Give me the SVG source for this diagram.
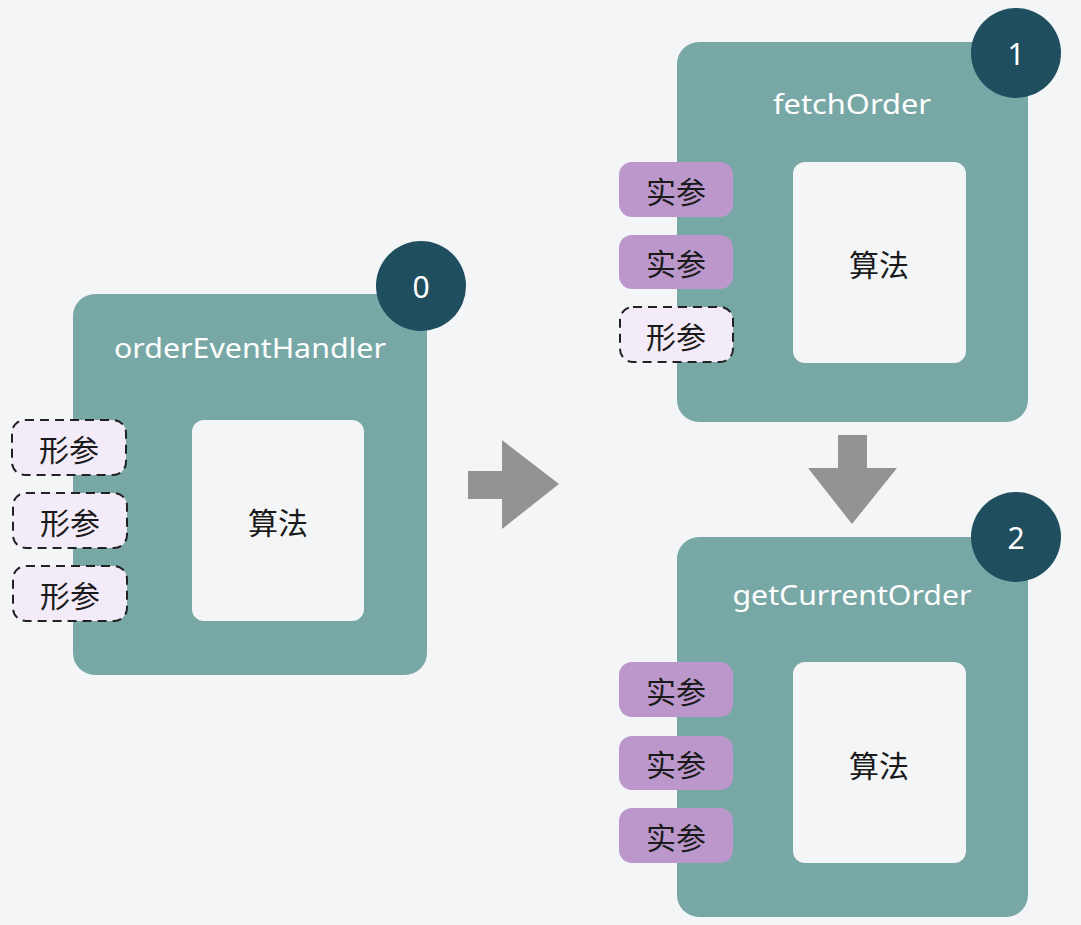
<svg xmlns="http://www.w3.org/2000/svg" width="1081" height="925" viewBox="0 0 1081 925">
<style>
.bg{fill:#f4f5f7}
.fn{fill:#78a8a6}
.algo{fill:#f4f5f7}
.badge{fill:#1f4e5f}
.num{fill:#ffffff;font-family:"Noto Sans","Liberation Sans",sans-serif;font-size:30px;text-anchor:middle;dominant-baseline:central}
.title{fill:#ffffff;font-family:"Noto Sans","Liberation Sans",sans-serif;font-size:27px;text-anchor:middle}
.cjk{fill:#1a1a1a;font-family:"Noto Sans CJK SC","Noto Sans",sans-serif;font-size:30px;text-anchor:middle;dominant-baseline:central}
.actual{fill:#bb97cb}
.formal{fill:#f3ebf7;stroke:#222;stroke-width:2;stroke-dasharray:9 6}
.arrow{fill:#939393}
</style>
<rect class="bg" x="0" y="0" width="1081" height="925"/>

<g id="connectors">
  <polygon class="arrow" points="468,471 502,471 502,440 559,484 502,529 502,499 468,499"/>
  <polygon class="arrow" points="838,435 867,435 867,468 897,468 852,524 808,468 838,468"/>
</g>

<g id="orderEventHandler">
  <rect class="fn" x="73" y="294" width="354" height="381" rx="22"/>
  <text class="title" x="250" y="358" textLength="272" lengthAdjust="spacingAndGlyphs">orderEventHandler</text>
  <rect class="algo" x="192" y="420" width="172" height="201" rx="12"/>
  <text class="cjk" x="278" y="521">算法</text>
  <rect class="formal" x="12" y="420" width="114" height="55" rx="13"/>
  <text class="cjk" x="69" y="447.5">形参</text>
  <rect class="formal" x="13" y="493" width="114" height="55" rx="13"/>
  <text class="cjk" x="70" y="520.5">形参</text>
  <rect class="formal" x="13" y="566" width="114" height="55" rx="13"/>
  <text class="cjk" x="70" y="593.5">形参</text>
  <circle class="badge" cx="421" cy="286" r="45"/>
  <text class="num" x="421" y="286">0</text>
</g>

<g id="fetchOrder">
  <rect class="fn" x="677" y="42" width="351" height="380" rx="22"/>
  <text class="title" x="852" y="114" textLength="158" lengthAdjust="spacingAndGlyphs">fetchOrder</text>
  <rect class="algo" x="793" y="162" width="173" height="201" rx="12"/>
  <text class="cjk" x="879" y="263">算法</text>
  <rect class="actual" x="619" y="162" width="114" height="55" rx="13"/>
  <text class="cjk" x="676" y="189.5">实参</text>
  <rect class="actual" x="619" y="235" width="114" height="54" rx="13"/>
  <text class="cjk" x="676" y="262">实参</text>
  <rect class="formal" x="620" y="307" width="113" height="55" rx="13"/>
  <text class="cjk" x="676" y="334.5">形参</text>
  <circle class="badge" cx="1016" cy="53" r="45"/>
  <text class="num" x="1016" y="53">1</text>
</g>

<g id="getCurrentOrder">
  <rect class="fn" x="677" y="537" width="351" height="380" rx="22"/>
  <text class="title" x="852" y="605" textLength="239" lengthAdjust="spacingAndGlyphs">getCurrentOrder</text>
  <rect class="algo" x="793" y="662" width="173" height="201" rx="12"/>
  <text class="cjk" x="879" y="764">算法</text>
  <rect class="actual" x="619" y="662" width="114" height="55" rx="13"/>
  <text class="cjk" x="676" y="689.5">实参</text>
  <rect class="actual" x="619" y="736" width="114" height="54" rx="13"/>
  <text class="cjk" x="676" y="763">实参</text>
  <rect class="actual" x="619" y="808" width="114" height="55" rx="13"/>
  <text class="cjk" x="676" y="835.5">实参</text>
  <circle class="badge" cx="1016" cy="537" r="45"/>
  <text class="num" x="1016" y="537">2</text>
</g>
</svg>
